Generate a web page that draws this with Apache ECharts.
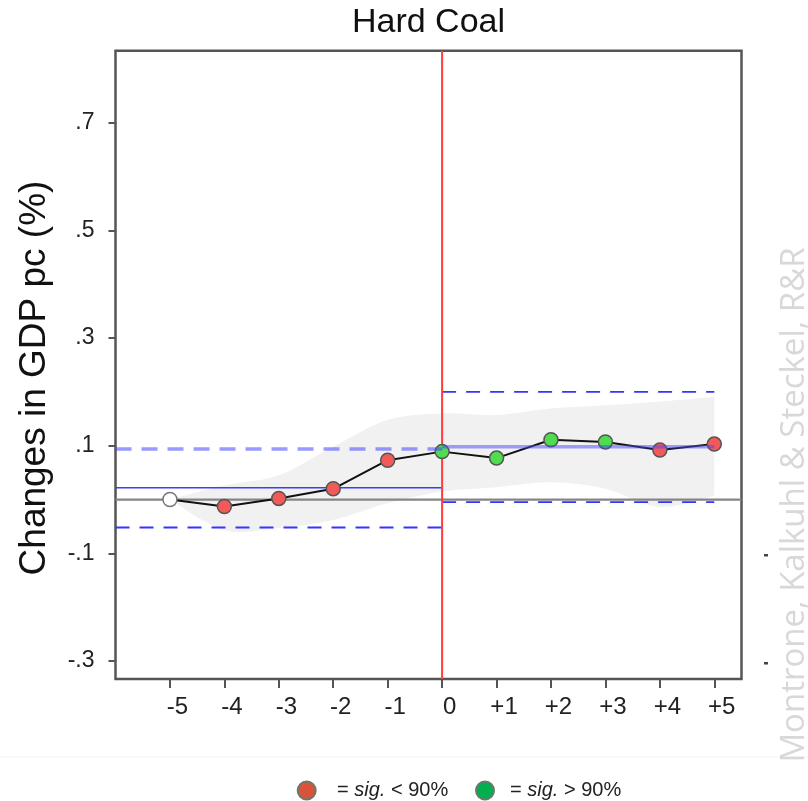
<!DOCTYPE html>
<html><head><meta charset="utf-8">
<script src="https://cdn.jsdelivr.net/npm/echarts@6/dist/echarts.min.js"></script>
<style>html,body{margin:0;padding:0;background:#fff}#c{width:808px;height:801px}</style>
</head><body><div id="c"></div>
<script>
// ---- data ----
const periods = [-5, -4, -3, -2, -1, 0, 1, 2, 3, 4, 5];
const estimates = [0.000, -0.013, 0.002, 0.020, 0.073, 0.089, 0.077, 0.111, 0.107, 0.092, 0.103];
const significance = ['none', 'low', 'low', 'low', 'low', 'high', 'high', 'high', 'high', 'low', 'low'];
const bandUpper = [0.000, 0.026, 0.045, 0.098, 0.148, 0.160, 0.157, 0.169, 0.175, 0.182, 0.191];
const bandLower = [0.000, -0.057, -0.053, -0.038, -0.007, 0.015, 0.023, 0.032, 0.020, -0.014, 0.007];
const preMean = 0.022, preUpper = 0.094, preLower = -0.052;
const postMean = 0.098, postUpper = 0.200, postLower = -0.005;
const yTicks = [-0.3, -0.1, 0.1, 0.3, 0.5, 0.7];
const xTicks = [-5, -4, -3, -2, -1, 0, 1, 2, 3, 4, 5];
const xMin = -6, xMax = 5.5, yMin = -0.3334, yMax = 0.8338;
const titleText = 'Hard Coal';
const yName = 'Changes in GDP pc (%)';
const watermark = 'Montrone, Kalkuhl & Steckel, R&R';

const FONT = '"Liberation Sans", Arial, Helvetica, sans-serif';
const colorOf = { none: '#ffffff', low: '#f25a5a', high: '#4fdc4f' };

const chart = echarts.init(document.getElementById('c'), null, { renderer: 'canvas' });

function seg(data, color, width, type, z) {
  return { type: 'line', data: data, symbol: 'none', silent: true, z: z,
    lineStyle: { color: color, width: width, type: type || 'solid' } };
}

// smooth (Catmull-Rom style) path through pixel points, for rendering only
function curveThrough(pts, t) {
  let d = '';
  for (let i = 0; i < pts.length - 1; i++) {
    const p0 = pts[Math.max(i - 1, 0)], p1 = pts[i], p2 = pts[i + 1], p3 = pts[Math.min(i + 2, pts.length - 1)];
    const c1 = [p1[0] + (p2[0] - p0[0]) * t, p1[1] + (p2[1] - p0[1]) * t];
    const c2 = [p2[0] - (p3[0] - p1[0]) * t, p2[1] - (p3[1] - p1[1]) * t];
    d += ' C' + c1[0] + ',' + c1[1] + ' ' + c2[0] + ',' + c2[1] + ' ' + p2[0] + ',' + p2[1];
  }
  return d;
}

const option = {
  animation: false,
  backgroundColor: '#fff',
  grid: { left: 115.5, right: 66.5, top: 50.7, bottom: 122, show: true,
    borderColor: '#555', borderWidth: 2.5, backgroundColor: 'transparent' },
  xAxis: {
    type: 'value', min: xMin, max: xMax,
    axisLine: { show: false, onZero: false }, splitLine: { show: false },
    axisTick: { show: true, customValues: xTicks, length: 9, lineStyle: { color: '#555', width: 2 } },
    axisLabel: { customValues: xTicks, margin: 16, fontSize: 24, fontFamily: FONT, color: '#222',
      padding: [0, 0, 0, 15],
      formatter: v => (v > 0 ? '+' + v : String(v)) }
  },
  yAxis: {
    type: 'value', min: yMin, max: yMax,
    axisLine: { show: false, onZero: false }, splitLine: { show: false },
    axisTick: { show: true, customValues: yTicks, length: 7, lineStyle: { color: '#555', width: 2 } },
    axisLabel: { customValues: yTicks, margin: 21, fontSize: 23, fontFamily: FONT, color: '#222',
      formatter: v => String(Math.round(v * 10) / 10).replace('0.', '.') }
  },
  series: [
    {
      type: 'custom', silent: true, z: 1,
      data: periods.map((p, i) => [p, bandUpper[i], bandLower[i]]),
      renderItem: function (params, api) {
        if (params.dataIndex !== 0) return null;
        const up = periods.map((p, i) => api.coord([p, bandUpper[i]]));
        const lo = periods.map((p, i) => api.coord([p, bandLower[i]])).reverse();
        let d = 'M' + up[0][0] + ',' + up[0][1] + curveThrough(up, 0.16);
        d += ' L' + lo[0][0] + ',' + lo[0][1] + curveThrough(lo, 0.16) + ' Z';
        return { type: 'path', shape: { pathData: d }, style: { fill: '#f1f1f1' } };
      }
    },
    seg([[xMin, 0], [xMax, 0]], '#858585', 2.2, 'solid', 2),
    seg([[xMin, preLower], [0, preLower]], '#3535ff', 1.8, [14, 10], 3),
    seg([[xMin, preMean], [0, preMean]], '#3d3dff', 1.5, 'solid', 3),
    seg([[0, postUpper], [5, postUpper]], '#3535ff', 1.8, [14, 10], 3),
    seg([[0, postLower], [5, postLower]], '#3535ff', 1.8, [14, 10], 3),
    seg([[0, yMin], [0, yMax]], '#ff3d3d', 2, 'solid', 4),
    {
      type: 'line', z: 5, silent: true,
      data: periods.map((p, i) => ({ value: [p, estimates[i]],
        itemStyle: { color: colorOf[significance[i]], borderColor: significance[i] === 'none' ? '#777' : '#555', borderWidth: 1.5 } })),
      symbol: 'circle', symbolSize: 14, showAllSymbol: true,
      lineStyle: { color: '#111', width: 2 }
    },
    seg([[0, postMean], [5, postMean]], 'rgba(70,70,255,0.5)', 3.5, 'solid', 6),
    seg([[xMin, preUpper], [0, preUpper]], 'rgba(70,70,255,0.55)', 3.5, [16, 10], 6)
  ],
  graphic: [
    { type: 'text', x: 428.5, y: 23, z: 10,
      style: { text: titleText, font: '34px ' + FONT, fill: '#111', textAlign: 'center', textVerticalAlign: 'middle' } },
    { type: 'text', x: 35, y: 378, rotation: Math.PI / 2, z: 10,
      style: { text: yName, font: '37px ' + FONT, fill: '#111', textAlign: 'center', textVerticalAlign: 'middle' } },
    { type: 'text', x: 795, y: 505, rotation: Math.PI / 2, z: 10,
      style: { text: watermark, font: '33px "Open Sans", sans-serif', fill: '#d8d8d8', textAlign: 'center', textVerticalAlign: 'middle' } },
    { type: 'rect', shape: { x: 764, y: 554, width: 4, height: 2.5 }, style: { fill: '#444' } },
    { type: 'rect', shape: { x: 764, y: 662, width: 4, height: 2.5 }, style: { fill: '#444' } },
    { type: 'line', shape: { x1: 0, y1: 757, x2: 808, y2: 757 }, style: { stroke: '#f3f3f3', lineWidth: 1 } },
    { type: 'circle', shape: { cx: 306.7, cy: 790.5, r: 9 }, style: { fill: '#d9533b', stroke: '#6b786b', lineWidth: 2 } },
    { type: 'text', x: 337, y: 790.5,
      style: { text: '= {i|sig.} < 90%', font: '20px ' + FONT, fill: '#222', textVerticalAlign: 'middle',
        rich: { i: { fontStyle: 'italic', fontSize: 20, fontFamily: FONT, fill: '#222' } } } },
    { type: 'circle', shape: { cx: 485, cy: 790.5, r: 9 }, style: { fill: '#00b04f', stroke: '#6b786b', lineWidth: 2 } },
    { type: 'text', x: 510, y: 790.5,
      style: { text: '= {i|sig.} > 90%', font: '20px ' + FONT, fill: '#222', textVerticalAlign: 'middle',
        rich: { i: { fontStyle: 'italic', fontSize: 20, fontFamily: FONT, fill: '#222' } } } }
  ]
};
chart.setOption(option);
</script>
</body></html>
